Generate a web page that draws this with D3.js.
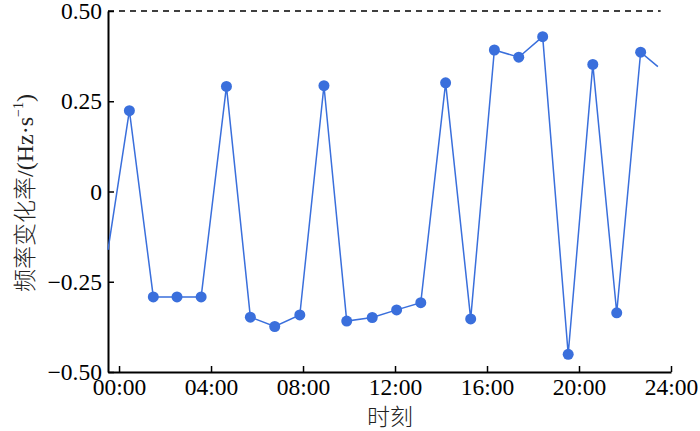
<!DOCTYPE html>
<html>
<head>
<meta charset="utf-8">
<script src="https://cdn.jsdelivr.net/npm/d3@7"></script>
<style>
  html, body { margin: 0; padding: 0; background: #fff; }
  svg { display: block; }
</style>
</head>
<body>
<div id="chart"></div>
<script>
// time of day in hours
var hours = [-0.48, 0.45, 1.49, 2.52, 3.57, 4.67, 5.71, 6.77, 7.86, 8.91, 9.90,
             11.01, 12.07, 13.12, 14.20, 15.29, 16.32, 17.38, 18.42, 19.53,
             20.60, 21.64, 22.68, 23.43];
// frequency change rate, Hz/s
var rates = [-0.162, 0.224, -0.292, -0.292, -0.292, 0.291, -0.348, -0.374, -0.342, 0.293, -0.359,
             -0.349, -0.328, -0.308, 0.301, -0.353, 0.392, 0.372, 0.429, -0.451,
             0.352, -0.336, 0.386, 0.346];
// first and last values sit on the plot edge, no marker
var marked = hours.map((d, i) => i > 0 && i < hours.length - 1);

var xTicks = [0, 4, 8, 12, 16, 20, 24];
var xTickLabels = ["00:00", "04:00", "08:00", "12:00", "16:00", "20:00", "24:00"];
var yTicks = [-0.5, -0.25, 0, 0.25, 0.5];
var yTickLabels = ["\u22120.50", "\u22120.25", "0", "0.25", "0.50"];
var limitValue = 0.5;

var width = 700;
var height = 431;
var margin = ({ top: 11, right: 29, bottom: 59, left: 108 });

var serif = "'Liberation Serif', 'Times New Roman', Times, serif";
var cjk = "'Noto Sans CJK SC', sans-serif";
var blue = "#3a6fdc";

var svg = d3.select("#chart")
    .append("svg")
    .attr("width", width)
    .attr("height", height);

var x = d3.scaleLinear()
    .domain([-0.48, 24])
    .range([margin.left, width - margin.right]);

var y = d3.scaleLinear()
    .domain([-0.5, 0.5])
    .range([height - margin.bottom, margin.top]);

var data = hours.map((h, i) => ({ h: h, v: rates[i], m: marked[i] }));

// dashed limit line at 0.50
svg.append("line")
    .attr("x1", x(-0.48))
    .attr("x2", x(23.55))
    .attr("y1", y(limitValue))
    .attr("y2", y(limitValue))
    .attr("stroke", "#000")
    .attr("stroke-width", 1.3)
    .attr("stroke-dasharray", "6,5");

var xAxis = g => g
    .attr("transform", `translate(0, ${height - margin.bottom})`)
    .attr("font-family", serif)
    .call(d3.axisBottom(x)
        .tickValues(xTicks)
        .tickFormat((d, i) => xTickLabels[i])
        .tickSizeInner(-6)
        .tickSizeOuter(0)
        .tickPadding(6))
    .call(g => g.select(".domain").attr("stroke-width", 2))
    .call(g => g.selectAll(".tick line").attr("stroke-width", 1.5))
    .call(g => g.selectAll("text")
        .attr("fill", "#000")
        .style("font-family", serif)
        .style("font-size", "23.5px"));

var yAxis = g => g
    .attr("transform", `translate(${margin.left}, 0)`)
    .attr("font-family", serif)
    .call(d3.axisLeft(y)
        .tickValues(yTicks)
        .tickFormat((d, i) => yTickLabels[i])
        .tickSizeInner(-6)
        .tickSizeOuter(0)
        .tickPadding(6))
    .call(g => g.select(".domain").attr("stroke-width", 2))
    .call(g => g.selectAll(".tick line").attr("stroke-width", 1.5))
    .call(g => g.selectAll("text")
        .attr("fill", "#000")
        .style("font-family", serif)
        .style("font-size", "23.5px"));

svg.append("g").call(xAxis);
svg.append("g").call(yAxis);

var line = d3.line()
    .x(d => x(d.h))
    .y(d => y(d.v));

svg.append("path")
    .datum(data)
    .attr("fill", "none")
    .attr("stroke", blue)
    .attr("stroke-width", 1.5)
    .attr("d", line);

svg.append("g")
    .attr("fill", blue)
    .selectAll("circle")
    .data(data.filter(d => d.m))
    .enter().append("circle")
        .attr("cx", d => x(d.h))
        .attr("cy", d => y(d.v))
        .attr("r", 5.5);

// axis titles
svg.append("text")
    .attr("x", 390)
    .attr("y", 425)
    .attr("text-anchor", "middle")
    .style("font-family", cjk)
    .style("font-size", "23px")
    .style("font-weight", 300)
    .style("fill", "#222")
    .text("时刻");

var yLabel = svg.append("text")
    .attr("transform", `translate(33, 193) rotate(-90)`)
    .attr("text-anchor", "middle")
    .style("fill", "#222")
    .style("font-size", "23px");
yLabel.append("tspan").style("font-family", cjk).style("font-weight", 300).text("频率变化率");
yLabel.append("tspan").style("font-family", serif).style("font-size", "24px").text("/(Hz\u00b7s");
yLabel.append("tspan").style("font-family", serif).style("font-size", "14px")
    .attr("dy", -10).text("\u22121");
yLabel.append("tspan").style("font-family", serif).style("font-size", "24px")
    .attr("dy", 10).text(")");
</script>
</body>
</html>
